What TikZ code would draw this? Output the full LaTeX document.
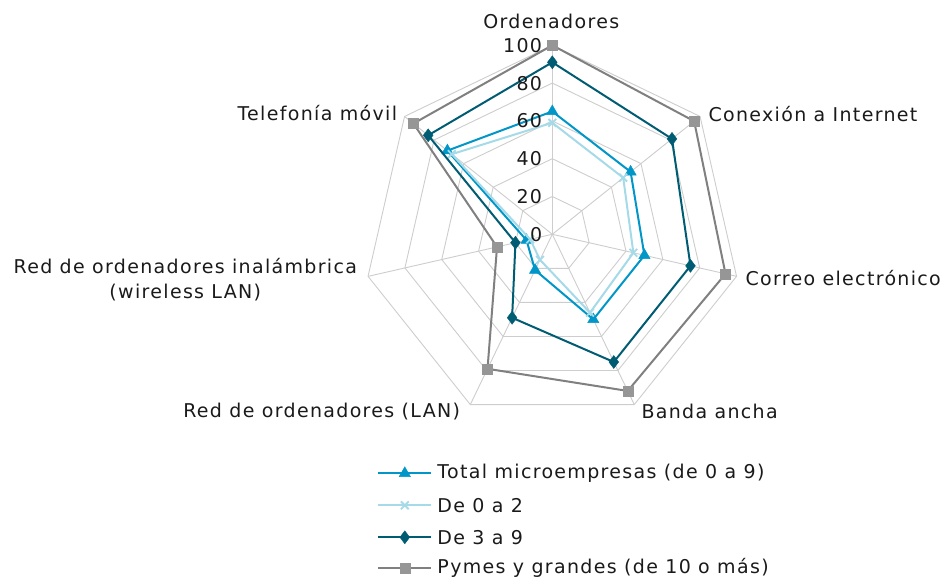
\documentclass[tikz,border=0pt]{standalone}
\usepackage{fontspec}
\setmainfont[LetterSpace=7]{DejaVu Sans}
\usetikzlibrary{positioning, calc, plotmarks}

\definecolor{gridgray}{RGB}{205,205,205}
\definecolor{totblue}{RGB}{0,150,200}
\definecolor{lightblue}{RGB}{165,218,232}
\definecolor{darkteal}{RGB}{0,92,115}
\definecolor{pymgray}{RGB}{128,128,128}
\definecolor{pymmark}{RGB}{150,150,150}
\definecolor{txt}{RGB}{26,26,26}

\begin{document}
\begin{tikzpicture}[
    x=1pt, y=1pt,
    grid/.style={draw=gridgray, line width=0.9pt},
    lbl/.style={font=\fontsize{19}{25}\selectfont, text=txt, inner sep=0pt, align=center},
    tot/.style={draw=totblue, line width=2pt, mark=triangle*, mark size=6.5pt,
        mark options={fill=totblue, draw=totblue, line width=0.4pt}},
    small/.style={draw=lightblue, line width=2pt, mark=x, mark size=5.5pt,
        mark options={draw=lightblue, line width=1.8pt}},
    mid/.style={draw=darkteal, line width=2pt, mark=diamond*, mark size=6.5pt,
        mark options={fill=darkteal, draw=darkteal, line width=0.4pt}},
    big/.style={draw=pymgray, line width=2pt, mark=square*, mark size=5pt,
        mark options={fill=pymmark, draw=pymmark, line width=0.4pt}}
]
    \useasboundingbox (-552.3,-342.7) rectangle (391.7,234.3);

    % Grid and series, 100 = 189 px
    \begin{scope}[x=1.89pt, y=1.89pt]
        \foreach \r in {20,40,60,80,100}
            \draw[grid] (90:\r) \foreach \k in {1,...,6} { -- (90-\k*360/7:\r) } -- cycle;
        \foreach \k in {0,...,6}
            \draw[grid] (0,0) -- (90-\k*360/7:100);

        \draw[tot] plot coordinates {(90:65) (38.571:53) (-12.857:50) (-64.286:50)
            (-115.714:21) (-167.143:14) (141.429:71)} -- cycle;
        \draw[small] plot coordinates {(90:59) (38.571:48) (-12.857:44) (-64.286:46)
            (-115.714:15) (-167.143:12) (141.429:68)} -- cycle;
        \draw[mid] plot coordinates {(90:91) (38.571:81) (-12.857:75) (-64.286:75)
            (-115.714:49) (-167.143:20) (141.429:84)} -- cycle;
        \draw[big] plot coordinates {(90:100) (38.571:96) (-12.857:94) (-64.286:92)
            (-115.714:79) (-167.143:30) (141.429:94)} -- cycle;
    \end{scope}

    % Scale
    \foreach \v in {0,20,...,100}
        \node[lbl, anchor=east] (s\v) at (-10, \v*1.89) {\v};

    % Axis labels
    \node[lbl] (ord) at (-1, 213) {Ordenadores};
    \node[lbl, anchor=west] (con) at (156, 120) {Conexión a Internet};
    \node[lbl, anchor=west] (cor) at (193, -44) {Correo electrónico};
    \node[lbl, anchor=west] (ban) at (89, -177) {Banda ancha};
    \node[lbl, anchor=east] (lan) at (-92, -177) {Red de ordenadores (LAN)};
    \node[lbl] (wlan) at (-367, -45) {Red de ordenadores inalámbrica\\(wireless LAN)};
    \node[lbl, anchor=east] (mov) at (-155, 121) {Telefonía móvil};

    % Legend
    \node[lbl, anchor=west] (l1) at (-115, -239) {Total microempresas (de 0 a 9)};
    \node[lbl, anchor=west] (l2) at (-115, -271) {De 0 a 2};
    \node[lbl, anchor=west] (l3) at (-115, -303) {De 3 a 9};
    \node[lbl, anchor=west] (l4) at (-115, -334) {Pymes y grandes (de 10 o más)};
    \foreach \n/\s in {l1/tot, l2/small, l3/mid, l4/big} {
        \coordinate (\n a) at ($(\n.west)+(-59,0)$);
        \coordinate (\n b) at ($(\n.west)+(-6,0)$);
        \draw[\s] (\n a) -- (\n b);
        \draw[\s] plot coordinates {($(\n a)!0.5!(\n b)$)};
    }
\end{tikzpicture}
\end{document}
